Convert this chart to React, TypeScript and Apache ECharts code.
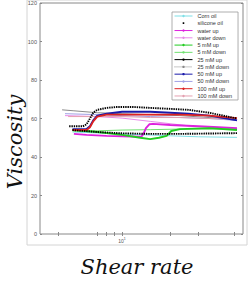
import React, { useEffect, useRef } from 'react';
import * as echarts from 'echarts';

// Shear rate (x) vs viscosity (y)
const cornOil = [[4.9, 53], [7, 52.5], [10, 52], [14, 51.5], [20, 51], [30, 50.5], [52.3, 50.2]];
const siliconeOil = [[4.9, 54], [7, 53], [10, 52.3], [15, 52], [23, 52], [35, 52.2], [52.3, 52.4]];
const waterUp = [[5.0, 52], [6, 51.5], [8, 51], [10, 50.8], [13.2, 50.5], [13.6, 52], [14.1, 55], [14.8, 57], [15.6, 57.2], [20, 56.6], [30, 56], [40, 55.5], [52.3, 55]];
const waterDown = [[4.4, 61.5], [7, 61], [10, 60.2], [15, 58.5], [26, 56.2], [52.3, 54.5]];
const mM5Up = [[4.9, 54], [7, 53], [10, 51.5], [13, 50], [15, 49.3], [17, 50], [19, 51], [20.3, 53.5], [23, 54.5], [35, 55], [52.3, 54]];
const mM5Down = [[4.9, 53.5], [7, 53.6], [10, 54], [15, 54.2], [23, 54.5], [35, 54.5], [52.3, 54.6]];
const mM25Up = [[4.67, 56], [5.7, 56], [6.0, 57], [6.3, 60], [6.6, 63], [7, 64.5], [8, 65.5], [9.3, 66], [11.7, 66], [15, 65.5], [20, 65], [26, 64.5], [35, 63], [52.3, 60]];
const mM25Down = [[4.22, 64.5], [5, 64], [7, 63], [10, 62.5], [15, 62], [23, 61.5], [35, 60.5], [52.3, 59.5]];
const mM50Up = [[4.9, 54.5], [6, 54.5], [6.3, 56], [6.6, 59], [7, 61.5], [8, 62.5], [10, 63.5], [15, 63.5], [20, 63], [26, 62.5], [35, 61.5], [52.3, 59]];
const mM50Down = [[4.4, 62.5], [7, 62], [10, 61.5], [15, 61], [23, 60.5], [35, 60], [52.3, 59]];
const mM100Up = [[4.9, 54], [6, 54], [6.3, 55.5], [6.6, 58.5], [7, 61], [8, 62], [10, 62], [15, 62], [23, 62], [35, 61.5], [52.3, 60.2]];
const mM100Down = [[4.6, 61], [7, 61], [10, 61], [15, 60.5], [23, 60.5], [35, 60], [52.3, 59.5]];

const seriesNames = ['Corn oil', 'silicone oil', 'water up', 'water down', '5 mM up', '5 mM down', '25 mM up', '25 mM down', '50 mM up', '50 mM down', '100 mM up', '100 mM down'];
const seriesData = [cornOil, siliconeOil, waterUp, waterDown, mM5Up, mM5Down, mM25Up, mM25Down, mM50Up, mM50Down, mM100Up, mM100Down];
const seriesColors = ['#7fdfe6', '#000000', '#dd22dd', '#e88ae8', '#22cc22', '#70e070', '#000000', '#8a8a8a', '#1a1aaa', '#a0a0e4', '#dd2222', '#e4a0b0'];
const seriesKind = ['thin', 'dots', 'up', 'thin', 'up', 'thin', 'dotsUp', 'thin', 'up', 'thin', 'up', 'thin'];

const yTicks = [0, 20, 40, 60, 80, 100, 120];
const xTickValues = [4, 7, 8, 9, 10, 20, 30, 50];
const xLabelValues = [10];

export default function App() {
  const ref = useRef<HTMLDivElement>(null);
  useEffect(() => {
    document.body.style.margin = '0';
    const chart = echarts.init(ref.current!, null, { renderer: 'svg' });
    const font = 'Liberation Sans';
    const series = seriesNames.map((name, i) => {
      const kind = seriesKind[i];
      const dotted = kind === 'dots' || kind === 'dotsUp';
      return {
        name,
        type: 'line',
        data: seriesData[i],
        symbol: kind === 'thin' ? 'none' : 'circle',
        symbolSize: 2,
        showSymbol: false,
        color: seriesColors[i],
        lineStyle: {
          color: seriesColors[i],
          width: dotted ? 1.9 : kind === 'up' ? 1.9 : 1,
          type: dotted ? [1.4, 0.9] : 'solid',
        },
        z: dotted ? 4 : kind === 'up' ? 3 : 2,
      };
    });
    const legendData = seriesNames.map((name, i) => {
      const kind = seriesKind[i];
      if (kind === 'dots') {
        return {
          name,
          icon: 'path://M0,0L0.05,0L0.05,0.05ZM18,3L18.05,3L18.05,3.05ZM8.2,0.6L9.8,0.6L9.8,2.2L8.2,2.2Z',
          itemStyle: { color: '#000' },
        };
      }
      return { name, lineStyle: { width: 1, type: name === '25 mM down' ? 'dotted' : 'solid' } };
    });
    const axisColor = '#888';
    chart.setOption({
      animation: false,
      backgroundColor: '#fff',
      grid: { left: 40, right: 9, top: 3, bottom: 50, show: true, borderColor: axisColor, borderWidth: 1, backgroundColor: '#fff' },
      legend: {
        orient: 'vertical',
        left: 172,
        top: 12,
        padding: [1, 6, 1, 2],
        itemWidth: 18,
        itemHeight: 3,
        itemGap: 1.27,
        borderColor: '#999',
        borderWidth: 0.8,
        backgroundColor: '#fff',
        textStyle: { fontSize: 5.5, lineHeight: 6, color: '#333', fontFamily: font },
        data: legendData,
      },
      xAxis: [
        {
          type: 'log',
          min: 3.07,
          max: 57,
          axisLine: { show: false },
          splitLine: { show: false },
          axisTick: { show: true, inside: true, length: 2, customValues: xTickValues, lineStyle: { color: axisColor } },
          minorTick: { show: false },
          axisLabel: {
            customValues: xLabelValues,
            margin: 3,
            formatter: (v: number) => (v === 10 ? '{b|10}{s|1}' : ''),
            rich: {
              b: { fontSize: 5, color: '#555', fontFamily: font },
              s: { fontSize: 3.5, color: '#555', fontFamily: font, verticalAlign: 'top', padding: [0, 0, 3, 0] },
            },
          },
        },
        {
          type: 'log',
          position: 'top',
          min: 3.07,
          max: 57,
          axisLine: { show: false },
          splitLine: { show: false },
          axisTick: { show: true, inside: true, length: 2, customValues: xTickValues, lineStyle: { color: axisColor } },
          axisLabel: { show: false },
        },
      ],
      yAxis: [
        {
          type: 'value',
          min: 0,
          max: 120,
          interval: 20,
          axisLine: { show: false },
          splitLine: { show: false },
          axisTick: { show: true, inside: true, length: 2, lineStyle: { color: axisColor } },
          axisLabel: { fontSize: 5.5, color: '#555', margin: 3, fontFamily: font, customValues: yTicks },
        },
        {
          type: 'value',
          position: 'right',
          min: 0,
          max: 120,
          interval: 20,
          axisLine: { show: false },
          splitLine: { show: false },
          axisTick: { show: true, inside: true, length: 2, lineStyle: { color: axisColor } },
          axisLabel: { show: false },
        },
      ],
      graphic: [
        { type: 'rect', shape: { x: 27, y: 0, width: 220, height: 245 }, style: { fill: 'none', stroke: '#d4d4d4', lineWidth: 1 }, z: -10, silent: true },
        {
          type: 'text',
          x: 15,
          y: 142,
          rotation: Math.PI / 2,
          style: { text: 'Viscosity', font: 'italic 21px "DejaVu Serif"', fill: '#111', align: 'center', verticalAlign: 'middle' },
        },
        {
          type: 'text',
          x: 137,
          y: 267,
          style: { text: 'Shear rate', font: 'italic 21px "DejaVu Serif"', fill: '#111', align: 'center', verticalAlign: 'middle' },
        },
      ],
      series,
    });
    return () => chart.dispose();
  }, []);
  return <div ref={ref} style={{ width: 252, height: 284 }} />;
}
